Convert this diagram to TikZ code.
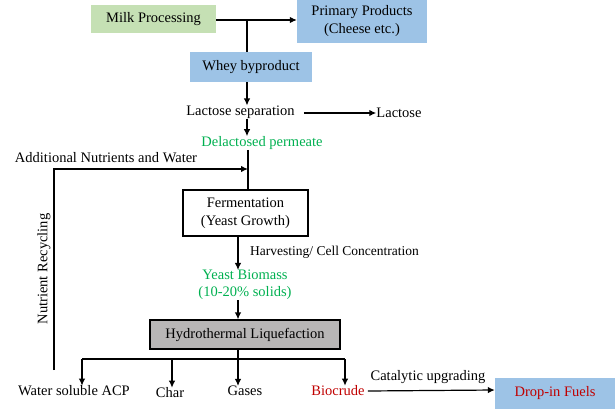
\documentclass[tikz,border=0pt]{standalone}
\usepackage{fontspec}
\setmainfont{Liberation Serif}
\usetikzlibrary{arrows.meta}
\definecolor{boxgreen}{HTML}{C5E0B4}
\definecolor{boxblue}{HTML}{9DC3E6}
\definecolor{boxgray}{HTML}{B8B6B6}
\definecolor{txtgreen}{HTML}{00B050}
\definecolor{txtred}{HTML}{C00000}
\begin{document}
\begin{tikzpicture}[x=1pt,y=-1pt,
  every node/.style={font=\rmfamily\fontsize{14.5}{18}\selectfont, inner sep=0pt},
  fillbox/.style={rectangle, align=center},
  txt/.style={align=center},
  small/.style={font=\rmfamily\fontsize{13.5}{16}\selectfont},
  conn/.style={line width=1.2pt, -{Latex[length=7pt,width=6.5pt]}},
  plain/.style={line width=1.2pt}]
\useasboundingbox (0,0) rectangle (615,409);

\node[fillbox, fill=boxgreen, minimum width=125pt, minimum height=28pt] (milk) at (153.5,19) {Milk Processing};
\node[fillbox, fill=boxblue, minimum width=130pt, minimum height=43pt] (primary) at (362,21.5) {Primary Products\\(Cheese etc.)};
\node[fillbox, fill=boxblue, minimum width=122pt, minimum height=30pt] (whey) at (251,67) {Whey byproduct};
\node[txt] (lacsep) at (240.5,112) {Lactose separation};
\node[txt] (lactose) at (399,113) {Lactose};
\node[txt, text=txtgreen] (delac) at (262,143) {Delactosed permeate};
\node[txt] (addnut) at (106,158) {Additional Nutrients and Water};
\node[fillbox, draw, line width=1.2pt, fill=white, minimum width=125pt, minimum height=46pt] (ferm) at (245.5,213) {Fermentation\\(Yeast Growth)};
\node[txt, small, anchor=west] (harvest) at (250,252) {Harvesting/ Cell Concentration};
\node[txt, text=txtgreen, font=\rmfamily\fontsize{14.5}{17}\selectfont] (yeast) at (245,285) {Yeast Biomass\\(10-20\% solids)};
\node[fillbox, draw, line width=1.2pt, fill=boxgray, minimum width=190pt, minimum height=29pt] (htl) at (245,334.5) {Hydrothermal Liquefaction};
\node[txt] (wsacp) at (74,391) {Water soluble ACP};
\node[txt] (char) at (170,393) {Char};
\node[txt] (gases) at (245,391) {Gases};
\node[txt, text=txtred] (bio) at (338,391) {Biocrude};
\node[txt] (catal) at (428,377) {Catalytic upgrading};
\node[fillbox, fill=boxblue, text=txtred, minimum width=120pt, minimum height=31pt] (drop) at (555,393.5) {Drop-in Fuels};
\node[txt, rotate=90] (nutrec) at (44,269) {Nutrient Recycling};

% top flow
\coordinate (j1) at (247,20);
\draw[conn] (milk.east |- j1) -- (primary.west |- j1);
\draw[plain] (j1) -- (j1 |- whey.north);
\draw[conn] (j1 |- whey.south) -- (j1 |- lacsep.north);
\draw[conn] (lacsep.east) ++(9,1) -- (lactose.west |- 0,113);
\draw[conn] (j1 |- lacsep.south) -- (j1 |- delac.north);
\coordinate (j2) at (248,169);
\draw[plain] (j2 |- delac.south) -- (j2 |- ferm.north);
% recycling loop
\coordinate (rb) at (54,370);
\draw[conn] (rb) -- (54,169) -- (j2);
% fermentation to HTL
\coordinate (j3) at (238,0);
\draw[conn] (j3 |- ferm.south) -- (j3 |- yeast.north);
\draw[conn] (j3 |- yeast.south) -- (j3 |- htl.north);
% products
\draw[conn] (j3 |- htl.south) -- (j3 |- gases.north);
\draw[plain] (82,359) -- (345,359);
\draw[conn] (82,359) -- (82 ,0 |- wsacp.north);
\draw[conn] (172,359) -- (172,0 |- char.north);
\draw[conn] (345,359) -- (345,0 |- bio.north);
\draw[conn] (bio.east) ++(3,0) -- (drop.west |- 0,390);
\end{tikzpicture}
\end{document}
